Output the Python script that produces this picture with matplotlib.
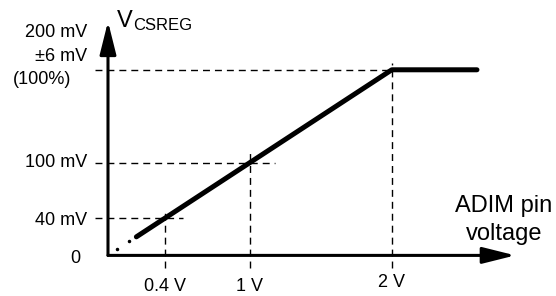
import matplotlib
matplotlib.use('agg')
import matplotlib.pyplot as plt

# transfer curve (ADIM pin voltage in V, V_CSREG in mV)
curve_x = [0.2, 2.0, 2.6]
curve_y = [20, 200, 200]
dot_x = [0.065, 0.15]
dot_y = [6.5, 15]

# reference levels
x_ticks = [0.4, 1.0, 2.0]
x_labels = ['0.4 V', '1 V', '2 V']
y_ticks = [40, 100, 200]
guide_x_end = [0.53, 1.18, 2.0]     # where horizontal guides stop
guide_y_end = [50, 113, 207]        # where vertical guides stop

plt.rcParams['font.family'] = ['Liberation Sans', 'DejaVu Sans']

fig = plt.figure(figsize=(5.56, 2.96), dpi=100)
ax = fig.add_axes([0, 0, 1, 1])
ax.set_xlim(-0.761, 3.157)
ax.set_ylim(-43.75, 275.2)
ax.axis('off')

dash = dict(color='black', lw=1, linestyle=(0, (5, 3.6)))
for yv, xe in zip(y_ticks, guide_x_end):
    ax.plot([-0.09, xe], [yv, yv], **dash)
for xv, ye in zip(x_ticks, guide_y_end):
    ax.plot([xv, xv], [-14, ye], **dash)

# axes with arrow heads
arrow = dict(arrowstyle='-|>,head_length=1.0,head_width=0.25', lw=2.2,
             color='black', mutation_scale=20, shrinkA=0, shrinkB=0)
ax.annotate('', xy=(2.87, 0), xytext=(0, 0), arrowprops=arrow)
ax.annotate('', xy=(0, 252), xytext=(0, 0), arrowprops=arrow)

ax.plot(curve_x, curve_y, color='black', lw=3.6, solid_capstyle='round')
ax.plot(dot_x, dot_y, 'o', color='black', ms=1.5)

fs = 13
for xv, lab in zip(x_ticks, x_labels):
    yoff = -33 if xv < 2 else -29
    ax.text(xv, yoff, lab, ha='center', va='center', fontsize=fs)
ax.text(-0.148, 38, '40 mV', ha='right', va='center', fontsize=fs)
ax.text(-0.148, 100, '100 mV', ha='right', va='center', fontsize=fs)
ax.text(-0.197, -3, '0', ha='right', va='center', fontsize=fs)
ax.text(-0.148, 240, '200 mV', ha='right', va='center', fontsize=fs)
ax.text(-0.148, 214, '±6 mV', ha='right', va='center', fontsize=fs)
ax.text(-0.26, 190, '(100%)', ha='right', va='center', fontsize=fs)

ax.text(0.063, 246, 'V', ha='left', va='baseline', fontsize=17)
ax.text(0.176, 243, 'CSREG', ha='left', va='baseline', fontsize=12)
ax.text(2.79, 53, 'ADIM pin', ha='center', va='center', fontsize=17)
ax.text(2.79, 23, 'voltage', ha='center', va='center', fontsize=17)

fig.savefig('out.png', dpi=100)
